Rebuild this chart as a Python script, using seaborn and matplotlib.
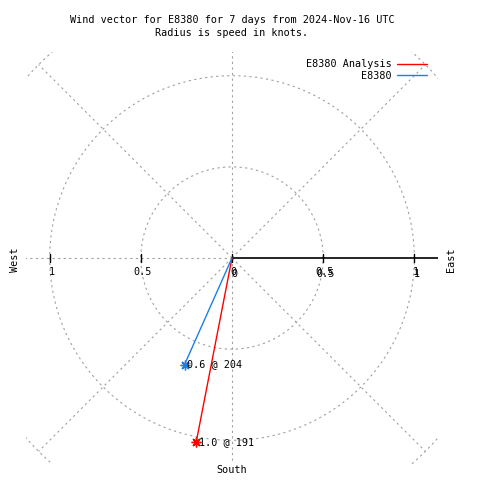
import numpy as np
import pandas as pd
import matplotlib
matplotlib.use("Agg")
import matplotlib.pyplot as plt
import seaborn as sns

# wind vectors: name, speed (knots), direction (deg, compass)
names = ["E8380 Analysis", "E8380"]
speeds = [1.03, 0.64]
directions = [191, 204]
colors = ["#ff0000", "#1a7fe8"]

ring_radii = [0.5, 1.0, 1.5]
tick_vals = [-1, -0.5, 0, 0.5, 1]
tick_text = ["1", "0.5", "0", "0.5", "1"]

sns.set_style("white")
plt.rcParams['font.family'] = ['DejaVu Sans Mono']
plt.rcParams['text.color'] = 'black'
fs = 7.3
grey = "#a0a0a0"
lim = 1.13

fig = plt.figure(figsize=(4.8, 4.8), dpi=100)
ax = fig.add_axes([26 / 480, 16 / 480, 412 / 480, 412 / 480])
ax.set_xlim(-lim, lim)
ax.set_ylim(-lim, lim)
ax.axis("off")

# polar grid
t = np.linspace(0, 2 * np.pi, 400)
for r in ring_radii:
    ax.plot(r * np.cos(t), r * np.sin(t), color=grey, lw=0.8, ls=(0, (2, 3)))
for ang in [45, 90, 135, 180, 225, 270, 315]:
    a = np.radians(ang)
    ax.plot([0, 1.5 * np.cos(a)], [0, 1.5 * np.sin(a)], color=grey, lw=0.8, ls=(0, (2, 3)))

# polar axis line + ticks
ax.plot([0, lim], [0, 0], color="black", lw=1.2)
for v, s in zip(tick_vals, tick_text):
    ax.plot([v, v], [-0.02, 0.02], color="black", lw=1.0)
    ax.text(v + 0.01, -0.075, s, ha="center", va="center", fontsize=fs)
    if v >= 0:
        ax.text(v + 0.015, -0.09, s, ha="center", va="center", fontsize=fs)

# vectors
for n, sp, d, c in zip(names, speeds, directions, colors):
    a = np.radians(d)
    xe, ye = sp * np.sin(a), sp * np.cos(a)
    df = pd.DataFrame({"x": [0, xe], "y": [0, ye]})
    sns.lineplot(data=df, x="x", y="y", sort=False, color=c, lw=1.0, ax=ax, label=n)
    ax.plot([xe], [ye], marker=(8, 2, 0), color=c, ms=7, mew=1.0)
    ax.text(xe + 0.015, ye, "%.1f @ %d" % (sp, d), ha="left", va="center", fontsize=fs)

ax.set_xlabel("")
ax.set_ylabel("")
leg = ax.legend(loc="upper right", bbox_to_anchor=(0.99, 1.0), frameon=False,
                fontsize=fs, markerfirst=False, handlelength=2.9,
                handletextpad=0.6, labelspacing=0.15, borderaxespad=0.3)
for txt in leg.get_texts():
    txt.set_ha("right")

fig.text(232 / 480, 1 - 20 / 480, "Wind vector for E8380 for 7 days from 2024-Nov-16 UTC",
         ha="center", va="center", fontsize=fs)
fig.text(232 / 480, 1 - 33 / 480, "Radius is speed in knots.", ha="center", va="center", fontsize=fs)
fig.text(15 / 480, 1 - 260 / 480, "West", rotation=90, ha="center", va="center", fontsize=fs)
fig.text(451 / 480, 1 - 260 / 480, "East", rotation=90, ha="center", va="center", fontsize=fs)
fig.text(232 / 480, 1 - 470 / 480, "South", ha="center", va="center", fontsize=fs)

fig.savefig("out.png", dpi=100)
